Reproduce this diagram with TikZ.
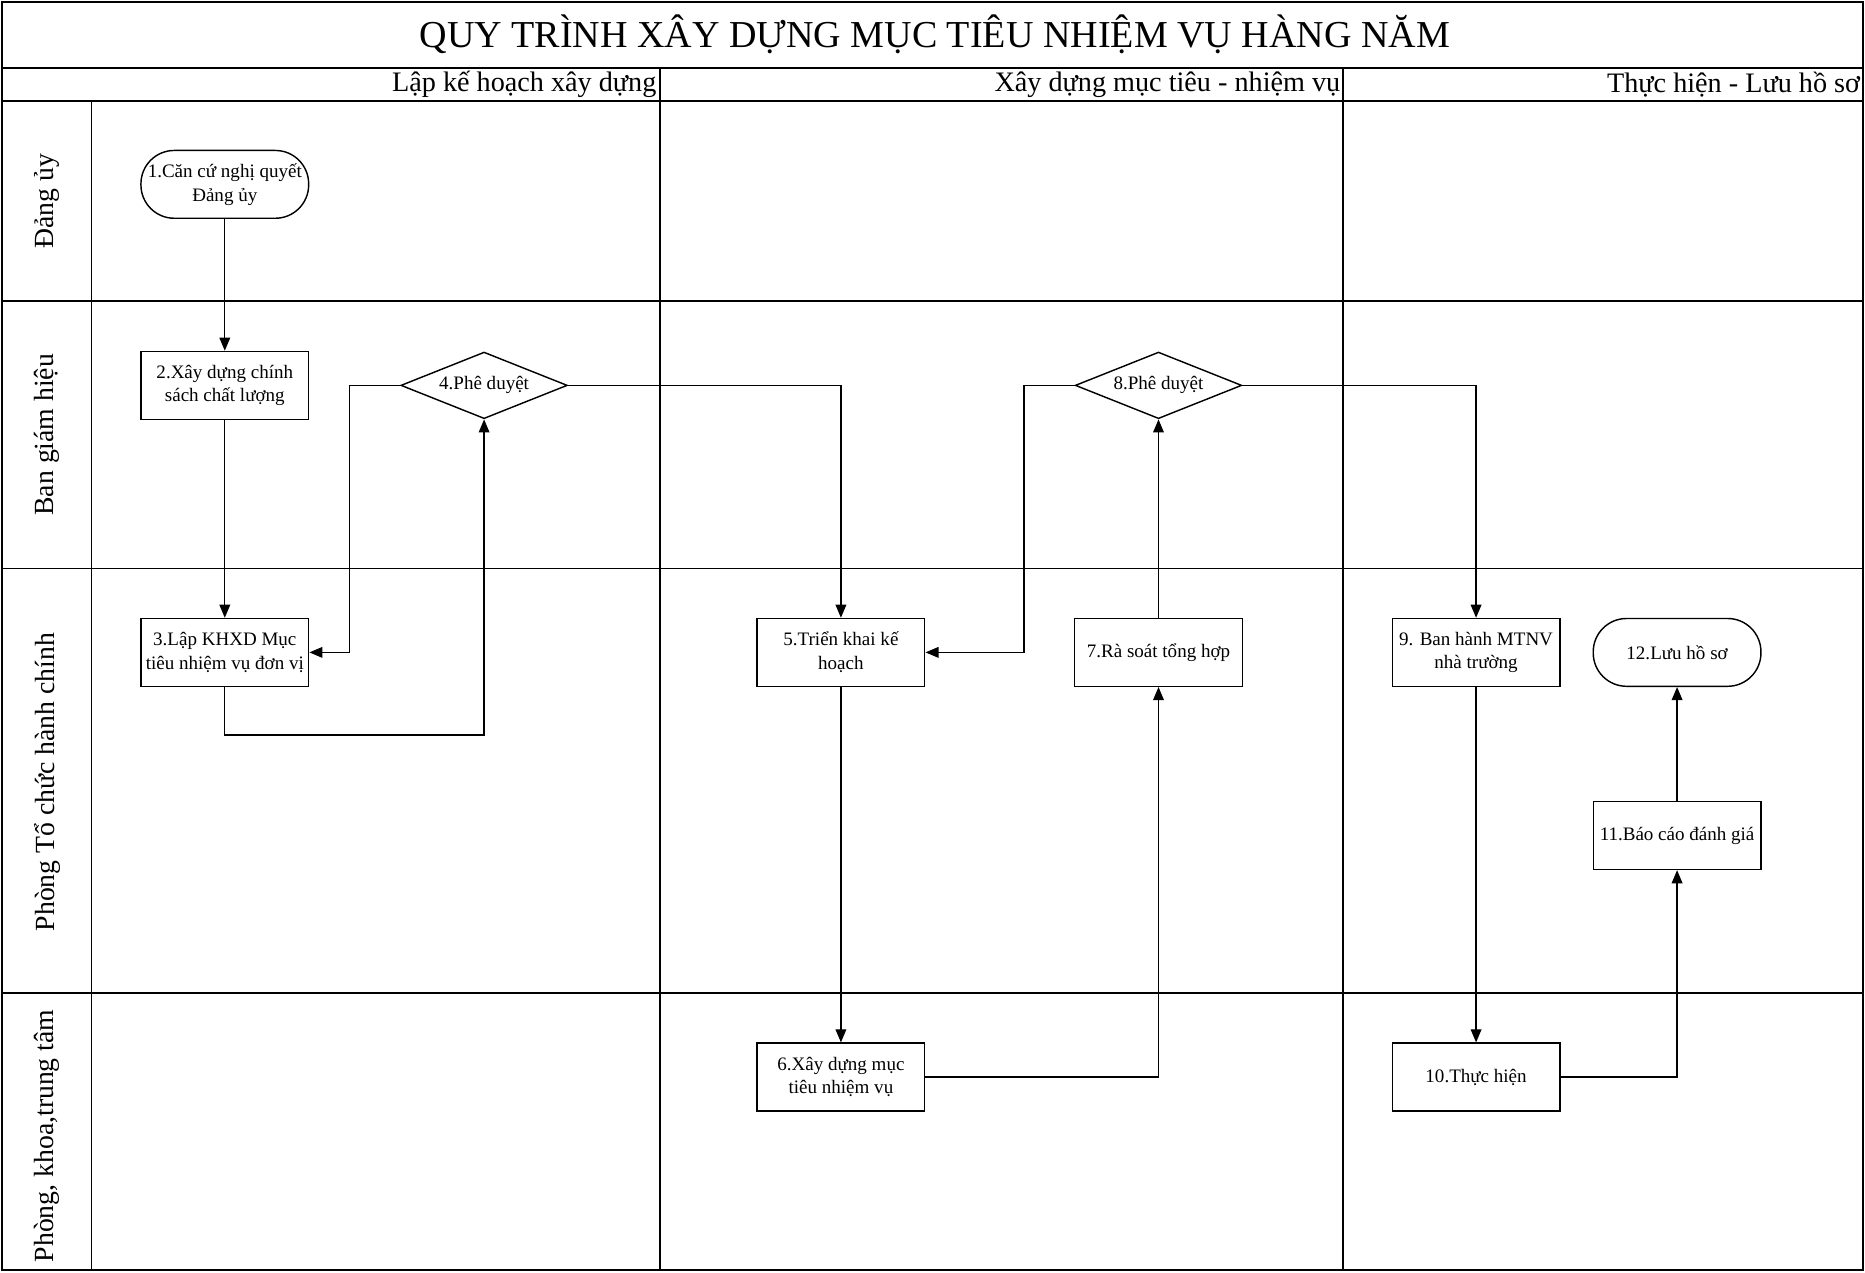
\documentclass[tikz,border=0pt]{standalone}
\usepackage{fontspec}
\setmainfont{Liberation Serif}
\usetikzlibrary{shapes.geometric,arrows.meta}
\begin{document}
\begin{tikzpicture}[x=1pt,y=1pt,
  lane/.style={line width=1.3pt},
  frame/.style={line width=1.6pt},
  nodetext/.style={font=\fontsize{16}{20}\selectfont, align=center, inner sep=0pt},
  procbox/.style={nodetext, draw, line width=1.2pt, minimum width=141pt, minimum height=57pt},
  termbox/.style={procbox, rounded corners=28pt},
  decision/.style={nodetext, draw, line width=1.2pt, diamond, aspect=2.5, minimum width=140pt, minimum height=56pt},
  arr/.style={line width=1.1pt, -{Triangle[length=11pt,width=9pt]}},
  headtext/.style={font=\fontsize{23.7}{26}\selectfont, inner sep=0pt},
  lanetext/.style={font=\fontsize{23.3}{26}\selectfont, inner sep=0pt, rotate=90}
]
\useasboundingbox (0,0) rectangle (1568,-1069.5);
% frame and grid
\draw[frame] (2,-2) rectangle (1566,-1068);
\draw[frame] (2,-57) -- (1566,-57);
\draw[frame] (2,-85) -- (1566,-85);
\draw[lane] (77,-85) -- (77,-1068);
\draw[lane] (555,-57) -- (555,-1068);
\draw[lane] (1129,-57) -- (1129,-1068);
\draw[lane] (2,-253) -- (1566,-253);
\draw[lane] (2,-478) -- (1566,-478);
\draw[lane] (2,-835) -- (1566,-835);
% title and headers
\node[font=\fontsize{32}{36}\selectfont, inner sep=0pt] (title) at (786,-29) {QUY TRÌNH XÂY DỰNG MỤC TIÊU NHIỆM VỤ HÀNG NĂM};
\node[headtext, anchor=east] (h1) at (552,-71) {Lập kế hoạch xây dựng};
\node[headtext, anchor=east] (h2) at (1127,-71) {Xây dựng mục tiêu - nhiệm vụ};
\node[headtext, anchor=east] (h3) at (1564,-71) {Thực hiện - Lưu hồ sơ};
% lane labels
\node[lanetext] (l1) at (39.5,-169) {Đảng ủy};
\node[lanetext] (l2) at (39.5,-365.5) {Ban giám hiệu};
\node[lanetext] (l3) at (39.5,-657.5) {Phòng Tổ chức hành chính};
\node[lanetext] (l4) at (39.5,-955) {Phòng, khoa,trung tâm};
% nodes
\node[termbox] (n1) at (189,-155) {1.Căn cứ nghị quyết\\Đảng ủy};
\node[procbox] (n2) at (189,-324) {2.Xây dựng chính\\sách chất lượng};
\node[procbox] (n3) at (189,-548.5) {3.Lập KHXD Mục\\tiêu nhiệm vụ đơn vị};
\node[decision] (n4) at (407,-324) {4.Phê duyệt};
\node[procbox] (n5) at (707,-548.5) {5.Triển khai kế\\hoạch};
\node[procbox] (n6) at (707,-905.5) {6.Xây dựng mục\\tiêu nhiệm vụ};
\node[procbox] (n7) at (974,-548.5) {7.Rà soát tổng hợp};
\node[decision] (n8) at (974,-324) {8.Phê duyệt};
\node[procbox] (n9) at (1241,-548.5) {9. Ban hành MTNV\\nhà trường};
\node[procbox] (n10) at (1241,-905.5) {10.Thực hiện};
\node[procbox] (n11) at (1410,-702.5) {11.Báo cáo đánh giá};
\node[termbox] (n12) at (1410,-548.5) {12.Lưu hồ sơ};
% via points
\coordinate (v3) at (189,-618);
\coordinate (v4) at (294,-324);
\coordinate (v8) at (861,-324);
% connectors
\draw[arr] (n1) -- (n2);
\draw[arr] (n2) -- (n3);
\draw[arr] (n3.south) -- (v3) -| (n4.south);
\draw[arr] (n4.west) -- (v4) |- (n3.east);
\draw[arr] (n4.east) -| (n5.north);
\draw[arr] (n5) -- (n6);
\draw[arr] (n6.east) -| (n7.south);
\draw[arr] (n7) -- (n8);
\draw[arr] (n8.west) -- (v8) |- (n5.east);
\draw[arr] (n8.east) -| (n9.north);
\draw[arr] (n9) -- (n10);
\draw[arr] (n10.east) -| (n11.south);
\draw[arr] (n11) -- (n12);
\end{tikzpicture}
\end{document}
